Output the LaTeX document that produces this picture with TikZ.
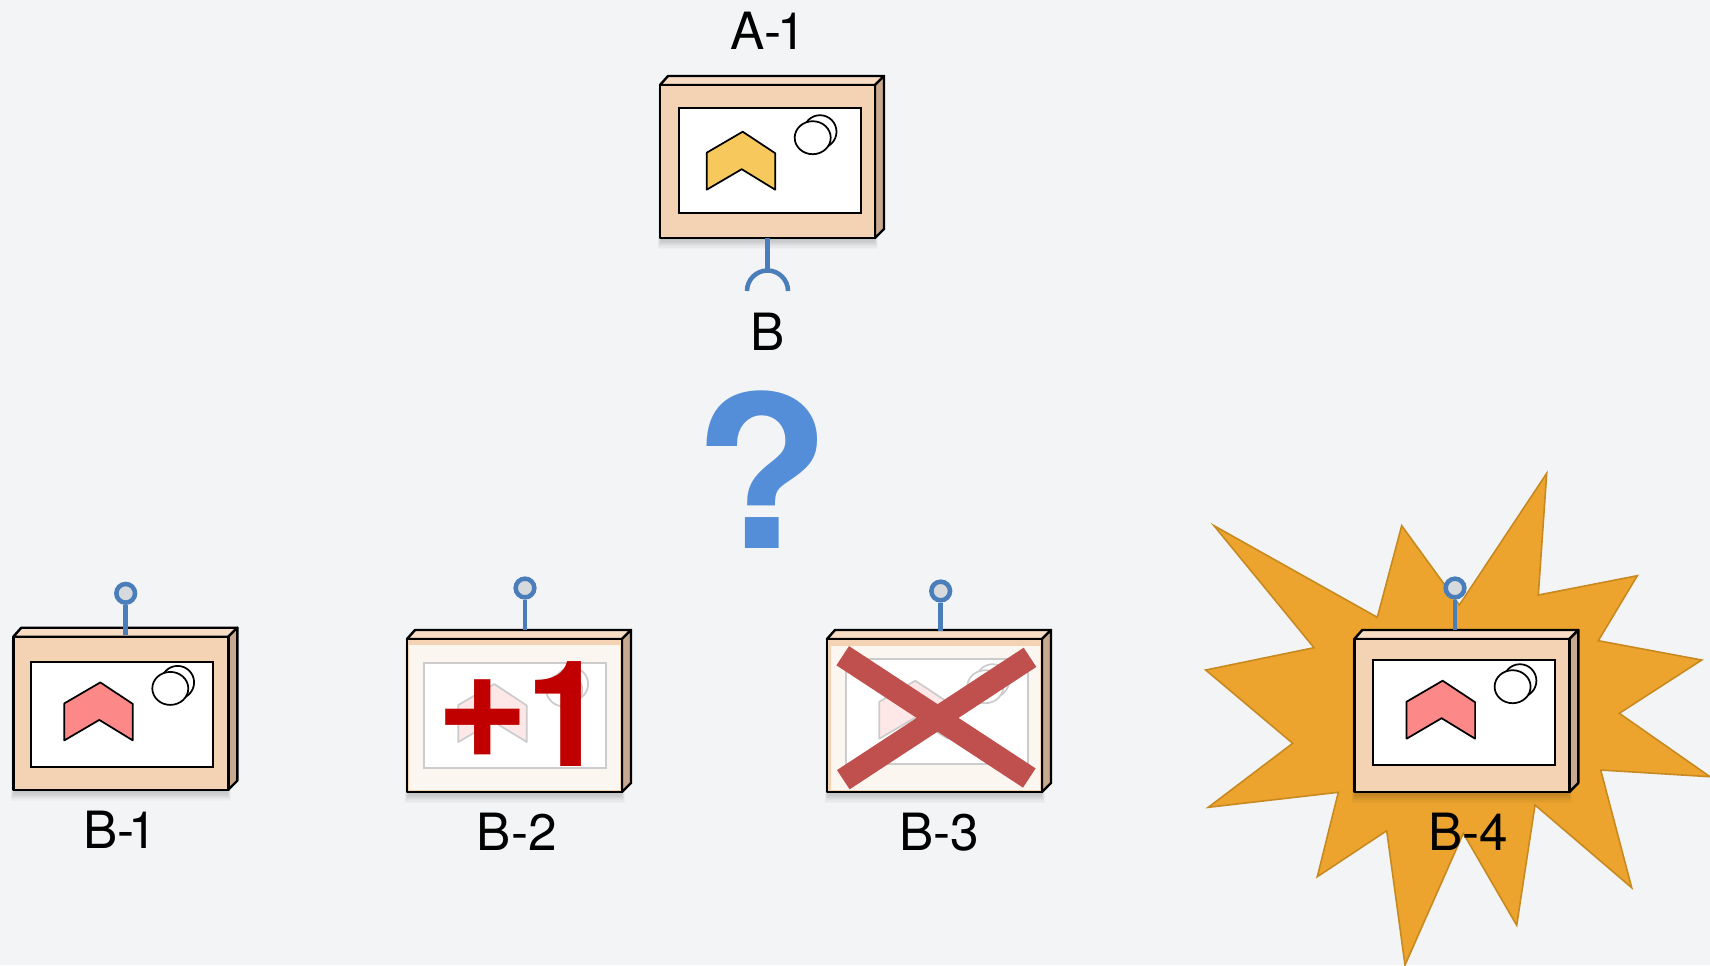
\documentclass[tikz,border=0pt]{standalone}
\usepackage{fontspec}
\usepackage{tikz}
\usepackage{xcolor}
\setmainfont{TeX Gyre Heros}
\newfontfamily\plusfont{Liberation Sans}
\tikzset{every picture/.style={line width=0.75pt}}
\tikzset{
  paper/.style={fill={rgb, 255:red, 243; green, 244; blue, 246 }},
  frontface/.style={draw=black,line width=1.8pt,line join=round,fill={rgb, 255:red, 244; green, 211; blue, 181 }},
  topface/.style={draw=black,line width=1.8pt,line join=round,fill={rgb, 255:red, 248; green, 220; blue, 196 }},
  sideface/.style={draw=black,line width=1.8pt,line join=round,fill={rgb, 255:red, 200; green, 168; blue, 142 }},
  screen/.style={draw=black,line width=1.6pt,fill=white},
  coin/.style={draw=black,line width=1.3pt,fill=white},
  chevyellow/.style={draw=black,line width=1.3pt,line join=round,fill={rgb, 255:red, 247; green, 201; blue, 92 }},
  chevred/.style={draw=black,line width=1.3pt,line join=round,fill={rgb, 255:red, 253; green, 136; blue, 136 }},
  fadeout/.style={fill=white,opacity=0.8},
  stem/.style={draw={rgb, 255:red, 74; green, 126; blue, 187 },line width=3.4pt},
  pinhead/.style={circle,draw={rgb, 255:red, 74; green, 126; blue, 187 },line width=3.4pt,fill={rgb, 255:red, 215; green, 218; blue, 221 },inner sep=0pt,minimum size=14pt},
  caption/.style={font=\fontsize{38.5}{38.5}\selectfont,inner sep=0pt,anchor=base},
  burst/.style={draw={rgb, 255:red, 200; green, 138; blue, 32 },line width=1.2pt,line join=miter,fill={rgb, 255:red, 236; green, 164; blue, 47 }},
  crossbar/.style={draw={rgb, 255:red, 192; green, 80; blue, 77 },line width=17.25pt},
}
% #1,#2 face corner, #3,#4 screen offset, #5,#6 chevron offset, #7 chevron style
\newcommand{\devicebox}[7]{
  \begin{scope}[shift={(#1,#2)}]
  \foreach \r in {1,...,9} {\fill [black,opacity=0.025] (2-0.5*\r,3) rectangle (213+0.5*\r,153+1.2*\r);}
  \draw [topface] (0,0) -- (8,-9) -- (224,-9) -- (215,0) -- cycle;
  \draw [sideface] (215,0) -- (224,-9) -- (224,144) -- (215,153) -- cycle;
  \draw [frontface] (0,0) rectangle (215,153);
  \draw [screen] (#3,#4) rectangle ++(182,105);
  \draw [#7] (#5,#6) -- ++(36,-21) -- ++(32.5,21.5) -- ++(0,36.5) -- ++(-33.5,-20.5) -- ++(-35,20.5) -- cycle;
  \draw [coin] (#5+113.3,#6-21) circle [x radius= 16.5, y radius= 16.5];
  \draw [coin] (#5+106,#6-15) circle [x radius= 18, y radius= 16.5];
  \end{scope}
}

\begin{document}
\begin{tikzpicture}[x=0.75pt,y=0.75pt,yscale=-1,xscale=1]
\useasboundingbox (0,0) rectangle (1710,965);
\fill [paper] (0,0) rectangle (1710,965);

%Shape: Star
\draw [burst] (1546.7,473.3) -- (1538.3,595) -- (1637.3,575.7) -- (1598.3,640.7) -- (1701.7,660) -- (1619.3,713.3) -- (1710,776.7) -- (1600.7,770) -- (1631.7,887.7) -- (1535,805) -- (1516.7,925.3) -- (1463.3,833.3) -- (1405,965) -- (1386.7,830.7) -- (1317.3,876.7) -- (1338.3,792.3) -- (1208.3,807.3) -- (1292.7,743.3) -- (1205.7,670) -- (1314,647.7) -- (1214,525.7) -- (1377.3,617.3) -- (1401.7,525.7) -- (1459.3,605) -- cycle;

%Shape: Boxes
\devicebox{660}{85}{19}{23}{46.7}{67.7}{chevyellow}
\devicebox{13.3}{636.7}{18}{25}{51}{66.7}{chevred}
\devicebox{407}{639}{17}{24}{51.3}{66}{chevred}
\devicebox{827}{639}{19}{20}{52.3}{62.7}{chevred}
\devicebox{1354.3}{639}{19}{21}{52.3}{62.7}{chevred}

%Shape: Rectangle
\fill [fadeout] (409,645) rectangle (620,790);
%Shape: Rectangle
\fill [fadeout] (831,646) rectangle (1040,790);

% Text Node
\draw (439,766) node (plusone) [inner sep=0pt,anchor=base west,font=\fontsize{111}{111}\selectfont\bfseries,text={rgb, 255:red, 192; green, 0; blue, 0 }] {{\plusfont +}1};

%Straight Lines
\draw [crossbar] (842.7,655.7) -- (1029.3,778);
%Straight Lines
\draw [crossbar] (1030,657.3) -- (843.3,779.7);

% Socket
\coordinate (boxa) at (767.5,238);
\coordinate (socka) at (767.5,270.5);
\coordinate (sockaleft) at (747,291);
\draw [stem] (boxa) -- (socka);
\draw [stem] (sockaleft) arc [start angle=180,end angle=360,radius=20.5];

% Pins
\draw (125.7,593.3) node (pinbone) [pinhead] {};
\coordinate (boxbone) at (125.7,635);
\draw [stem] (pinbone) -- (boxbone);
\draw (525,588) node (pinbtwo) [pinhead] {};
\coordinate (boxbtwo) at (525,630);
\draw [stem] (pinbtwo) -- (boxbtwo);
\draw (940.7,591) node (pinbthree) [pinhead] {};
\coordinate (boxbthree) at (940.7,631);
\draw [stem] (pinbthree) -- (boxbthree);
\draw (1455,588) node (pinbfour) [pinhead] {};
\coordinate (boxbfour) at (1455,630);
\draw [stem] (pinbfour) -- (boxbfour);

% Text Node
\draw (768,49) node (lblaone) [caption] {A-\kern-3pt 1};
% Text Node
\draw (768,350) node (lblb) [caption] {B};
% Text Node
\draw (120,848.5) node (lblbone) [caption] {B-\kern-5pt 1};
% Text Node
\draw (516.7,850) node (lblbtwo) [caption] {B-2};
% Text Node
\draw (939.3,850) node (lblbthree) [caption] {B-3};
% Text Node
\draw (1468,850) node (lblbfour) [caption] {B-4};
% Text Node
\draw (762,548) node (qmark) [inner sep=0pt,anchor=base,font=\fontsize{159}{159}\selectfont\bfseries,text={rgb, 255:red, 85; green, 142; blue, 216 }] {\scalebox{1.06}[1]{?}};
\end{tikzpicture}
\end{document}
